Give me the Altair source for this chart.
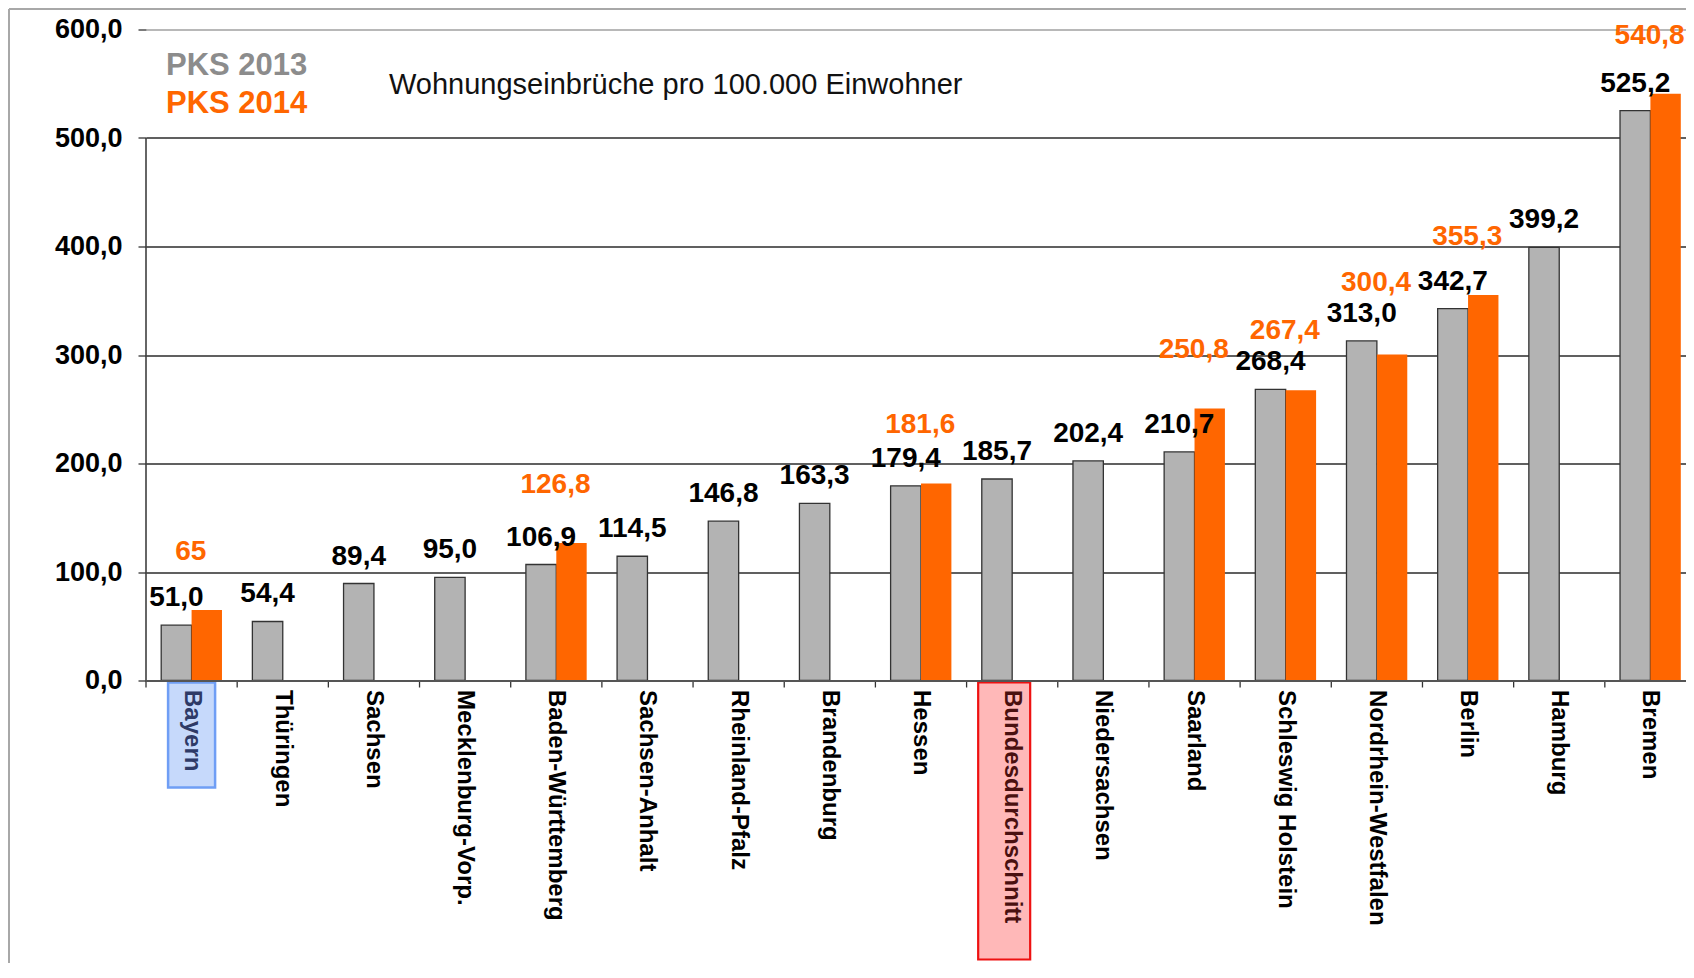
import altair as alt
import pandas as pd

# ---------------- data ----------------
states = ["Bayern", "Thüringen", "Sachsen", "Mecklenburg-Vorp.", "Baden-Württemberg",
          "Sachsen-Anhalt", "Rheinland-Pfalz", "Brandenburg", "Hessen", "Bundesdurchschnitt",
          "Niedersachsen", "Saarland", "Schleswig Holstein", "Nordrhein-Westfalen",
          "Berlin", "Hamburg", "Bremen"]
pks_2013 = [51.0, 54.4, 89.4, 95.0, 106.9, 114.5, 146.8, 163.3, 179.4, 185.7,
            202.4, 210.7, 268.4, 313.0, 342.7, 399.2, 525.2]
pks_2014 = [65, None, None, None, 126.8, None, None, None, 181.6, None,
            None, 250.8, 267.4, 300.4, 355.3, None, 540.8]
years = ["2013", "2014"]
y_ticks = [0, 100, 200, 300, 400, 500, 600]
title_text = "Wohnungseinbrüche  pro 100.000 Einwohner"
legend_2013 = "PKS 2013"
legend_2014 = "PKS 2014"

# ---------------- style ----------------
W, H = 1550, 651
FONT = "Liberation Sans"
GRAY = "#B3B3B3"
ORANGE = "#FF6600"
LEG_GRAY = "#8C8C8C"


def fmt(v):
    if isinstance(v, int):
        return str(v)
    return f"{v:.1f}".replace(".", ",")


rows = []
for s, a, b in zip(states, pks_2013, pks_2014):
    top = max(a, b if b is not None else 0)
    rows.append(dict(state=s, year="2013", value=a, label=fmt(a), top=top))
    if b is not None:
        rows.append(dict(state=s, year="2014", value=b, label=fmt(b), top=top))
df = pd.DataFrame(rows)
one = pd.DataFrame({"k": [0]})

x_scale = alt.Scale(domain=states, paddingInner=0, paddingOuter=0)
xo_enc = alt.XOffset("year:N", scale=alt.Scale(domain=years, paddingInner=0, paddingOuter=0.5))
y_scale = alt.Scale(domain=[0, 600], nice=False)

x_axis = alt.Axis(
    title=None, labelAngle=90, labelAlign="left", labelBaseline="middle",
    labelFont=FONT, labelFontSize=24, labelFontWeight="bold", labelLimit=400,
    labelPadding=9, ticks=False, tickSize=0, grid=False,
    domainColor="#555555", domainWidth=2, zindex=1,
    labelColor=alt.ExprRef(expr="datum.value === 'Bayern' ? '#2E3A66' : (datum.value === 'Bundesdurchschnitt' ? '#4A1010' : '#000000')"),
)
y_axis = alt.Axis(
    title=None, values=y_ticks, domain=False, grid=True, gridWidth=1.4,
    gridColor=alt.ExprRef(expr="datum.value === 600 ? '#A0A0A0' : '#2B2B2B'"),
    tickColor="#333333", tickSize=8, tickWidth=1.3,
    labelFont=FONT, labelFontSize=27, labelFontWeight="bold", labelColor="#000000",
    labelPadding=16, labelExpr="replace(format(datum.value, '.1f'), '.', ',')", zindex=0,
)

X = alt.X("state:N", sort=states, scale=x_scale, axis=x_axis)
Yv = alt.Y("value:Q", scale=y_scale, axis=y_axis)

base = alt.Chart(df)

bars13 = base.transform_filter("datum.year == '2013'").mark_bar(
    color=GRAY, stroke="#333333", strokeWidth=1.3
).encode(x=X, xOffset=xo_enc, y=Yv)

bars14 = base.transform_filter("datum.year == '2014'").mark_bar(
    color=ORANGE
).encode(x=X, xOffset=xo_enc, y=Yv)

lab13 = base.transform_filter("datum.year == '2013'").mark_text(
    font=FONT, fontSize=28, fontWeight="bold", color="#000000", baseline="alphabetic", dy=-19
).encode(x=X, xOffset=xo_enc, y=Yv, text="label:N")

lab14 = base.transform_filter("datum.year == '2014'").mark_text(
    font=FONT, fontSize=28, fontWeight="bold", color=ORANGE, baseline="alphabetic", dy=-50, dx=-16
).encode(x=X, xOffset=xo_enc, y=alt.Y("top:Q", scale=y_scale, axis=y_axis), text="label:N")

# short tick marks at the category boundaries below the x axis
cat_ticks = base.transform_filter("datum.year == '2013'").mark_rule(
    color="#333333", strokeWidth=1.3
).encode(x=alt.X("state:N", sort=states, scale=x_scale, axis=x_axis, bandPosition=0),
         y=alt.value(H), y2=alt.value(H + 7))

# y axis line (0 .. 500)
y_line = alt.Chart(one).mark_rule(color="#333333", strokeWidth=1.5).encode(
    x=alt.value(0), y=alt.datum(0), y2=alt.datum(500))

# highlight boxes behind two category labels
box_bay = base.transform_filter("datum.state == 'Bayern' && datum.year == '2013'").mark_bar(
    width=47, color="#C6D9FB", stroke="#6F9EF5", strokeWidth=2.5
).encode(x=X, y=alt.value(H + 2), y2=alt.value(H + 107))

box_bund = base.transform_filter("datum.state == 'Bundesdurchschnitt'").mark_bar(
    width=52, xOffset=-8, color="#FFB8B8", stroke="#EE1111", strokeWidth=2.2
).encode(x=X, y=alt.value(H + 2), y2=alt.value(H + 279))

# title and legend texts
title = alt.Chart(one).mark_text(
    text=title_text, font=FONT, fontSize=29, align="left", baseline="alphabetic", color="#111111"
).encode(x=alt.value(243), y=alt.value(64))

leg13 = alt.Chart(one).mark_text(
    text=legend_2013, font=FONT, fontSize=31, fontWeight="bold", align="left",
    baseline="alphabetic", color=LEG_GRAY
).encode(x=alt.value(20), y=alt.value(45.5))

leg14 = alt.Chart(one).mark_text(
    text=legend_2014, font=FONT, fontSize=31, fontWeight="bold", align="left",
    baseline="alphabetic", color=ORANGE
).encode(x=alt.value(20), y=alt.value(83.5))

# window-like frame at top / left
frame_top = alt.Chart(one).mark_rule(color="#A8A8A8", strokeWidth=2).encode(
    x=alt.value(-137), x2=alt.value(W + 20), y=alt.value(-20.5))
frame_left = alt.Chart(one).mark_rule(color="#A8A8A8", strokeWidth=2).encode(
    x=alt.value(-137), y=alt.value(-20.5), y2=alt.value(H + 400))

chart = alt.layer(
    box_bay, box_bund, bars13, bars14, lab13, lab14, cat_ticks, y_line,
    title, leg13, leg14, frame_top, frame_left
).properties(
    width=W, height=H,
    padding={"left": 138, "top": 21.5, "right": -10, "bottom": 282},
    autosize=alt.AutoSizeParams(type="none"),
    background="white",
).configure_view(strokeWidth=0)

chart.save("out.html", embed_options={"renderer": "svg", "actions": False})
